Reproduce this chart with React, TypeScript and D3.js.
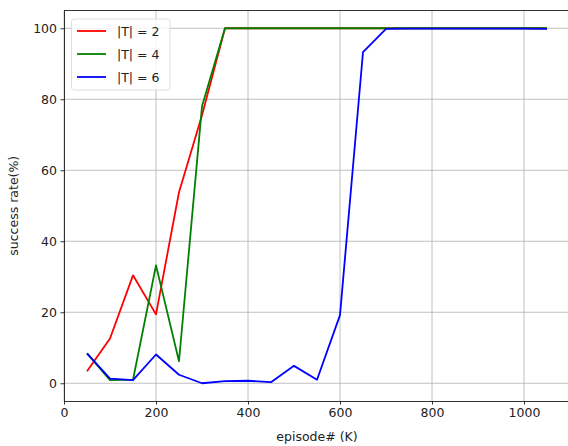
import { useEffect, useRef } from 'react';
import * as d3 from 'd3';

const W = 568;
const H = 446;

const episodes = [50, 100, 150, 200, 250, 300, 350, 400, 450, 500, 550, 600, 650, 700, 750, 800, 850, 900, 950, 1000, 1050];
const t2 = [3.4, 12.6, 30.4, 19.4, 53.8, 75.5, 100, 100, 100, 100, 100, 100, 100, 100, 100, 100, 100, 100, 100, 100, 100];
const t4 = [8.4, 0.9, 1.0, 33.2, 6.2, 78, 100, 100, 100, 100, 100, 100, 100, 100, 100, 100, 100, 100, 100, 100, 100];
const t6 = [8.4, 1.3, 0.9, 8.1, 2.4, 0, 0.6, 0.7, 0.3, 4.9, 1.0, 19.2, 93.3, 99.8, 99.9, 99.9, 99.9, 99.9, 99.9, 99.9, 99.8];

const xTicks = [0, 200, 400, 600, 800, 1000];
const yTicks = [0, 20, 40, 60, 80, 100];

const series = [
  { name: '|T| = 2', color: '#ff0000', values: t2 },
  { name: '|T| = 4', color: '#008000', values: t4 },
  { name: '|T| = 6', color: '#0000ff', values: t6 },
];

const left = 64;
const right = 570;
const top = 10.5;
const bottom = 401;

const App = () => {
  const ref = useRef<SVGSVGElement>(null);

  useEffect(() => {
    const svg = d3.select(ref.current);
    svg.selectAll('*').remove();

    const x = d3.scaleLinear().domain([0, 1100]).range([left, right]);
    const y = d3.scaleLinear().domain([-5, 105]).range([bottom, top]);

    const font = 'DejaVu Sans, sans-serif';

    // grid
    const grid = svg.append('g');
    xTicks.forEach((t) => {
      grid.append('line')
        .attr('x1', x(t)).attr('x2', x(t))
        .attr('y1', top).attr('y2', bottom)
        .attr('stroke', '#b0b0b0').attr('stroke-width', 0.8);
    });
    yTicks.forEach((t) => {
      grid.append('line')
        .attr('x1', left).attr('x2', right)
        .attr('y1', y(t)).attr('y2', y(t))
        .attr('stroke', '#b0b0b0').attr('stroke-width', 0.8);
    });

    // lines
    const line = d3.line<number>()
      .x((d, i) => x(episodes[i]))
      .y((d) => y(d));
    series.forEach((s) => {
      svg.append('path')
        .datum(s.values)
        .attr('fill', 'none')
        .attr('stroke', s.color)
        .attr('stroke-width', 1.8)
        .attr('stroke-linejoin', 'round')
        .attr('d', line);
    });

    // axes
    const xAxis = svg.append('g')
      .attr('transform', `translate(0, ${bottom})`)
      .call(d3.axisBottom(x).tickValues(xTicks).tickFormat(d3.format('d')).tickSize(3.5).tickPadding(3.5).tickSizeOuter(0));
    const yAxis = svg.append('g')
      .attr('transform', `translate(${left}, 0)`)
      .call(d3.axisLeft(y).tickValues(yTicks).tickFormat(d3.format('d')).tickSize(3.5).tickPadding(3.5).tickSizeOuter(0));
    [xAxis, yAxis].forEach((a) => {
      a.selectAll('text').attr('font-family', font).attr('font-size', 12.5).attr('fill', '#222');
      a.selectAll('line').attr('stroke', '#000').attr('stroke-width', 0.8);
      a.select('.domain').attr('stroke', '#000').attr('stroke-width', 0.8);
    });
    svg.append('line')
      .attr('x1', left).attr('x2', right)
      .attr('y1', top).attr('y2', top)
      .attr('stroke', '#000').attr('stroke-width', 0.8);

    svg.append('text')
      .attr('x', (left + right) / 2).attr('y', 441)
      .attr('text-anchor', 'middle')
      .attr('font-family', font).attr('font-size', 12.5).attr('fill', '#222')
      .text('episode# (K)');
    svg.append('text')
      .attr('transform', `translate(18, ${(top + bottom) / 2}) rotate(-90)`)
      .attr('text-anchor', 'middle')
      .attr('font-family', font).attr('font-size', 12.5).attr('fill', '#222')
      .text('success rate(%)');

    // legend
    const lg = svg.append('g');
    lg.append('rect')
      .attr('x', 71.5).attr('y', 19).attr('width', 98.5).attr('height', 71)
      .attr('rx', 2.5)
      .attr('fill', 'rgba(255,255,255,0.8)')
      .attr('stroke', '#d6d6d6').attr('stroke-width', 0.8);
    series.forEach((s, i) => {
      const yy = 31 + i * 23;
      lg.append('line')
        .attr('x1', 77).attr('x2', 106)
        .attr('y1', yy).attr('y2', yy)
        .attr('stroke', s.color).attr('stroke-width', 1.8);
      lg.append('text')
        .attr('x', 117).attr('y', yy + 4.5)
        .attr('font-family', font).attr('font-size', 12.5).attr('fill', '#222')
        .text(s.name);
    });
  }, []);

  return (
    <svg ref={ref} width={W} height={H} style={{ position: 'absolute', left: 0, top: 0, background: '#fff' }} />
  );
};

export default App;
